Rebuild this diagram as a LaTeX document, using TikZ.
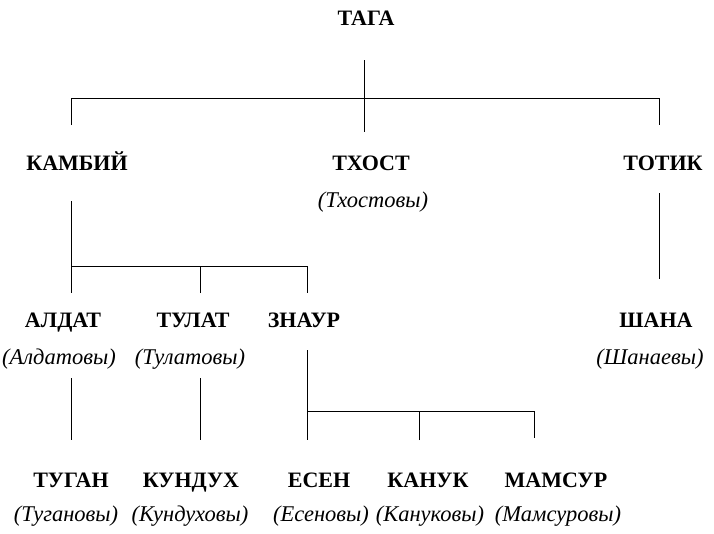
\documentclass[tikz,border=0pt]{standalone}
\usepackage{fontspec}
\setmainfont{Liberation Serif}
\begin{document}
\begin{tikzpicture}[x=1pt,y=-1pt,
  every node/.style={inner sep=0pt, anchor=base},
  kinname/.style={font=\bfseries\fontsize{22}{22}\selectfont},
  famtxt/.style={font=\itshape\fontsize{22.5}{22.5}\selectfont},
  treeline/.style={line width=0.9pt, draw=black}]
\useasboundingbox (0,0) rectangle (714,533);
% row 1
\node[kinname] (taga) at (366,25) {ТАГА};
% row 2
\node[kinname] (kambiy) at (77,170) {КАМБИЙ};
\node[kinname] (txost) at (371,170) {ТХОСТ};
\node[kinname] (totik) at (663,170) {ТОТИК};
\node[famtxt] (txostf) at (373,207) {(Тхостовы)};
% row 3
\node[kinname] (aldat) at (63,327) {АЛДАТ};
\node[kinname] (tulat) at (193,327) {ТУЛАТ};
\node[kinname] (znaur) at (304,327) {ЗНАУР};
\node[kinname] (shana) at (656,327) {ШАНА};
\node[famtxt] (aldatf) at (59,364) {(Алдатовы)};
\node[famtxt] (tulatf) at (190,364) {(Тулатовы)};
\node[famtxt] (shanaf) at (650,364) {(Шанаевы)};
% row 4
\node[kinname] (tugan) at (71,487) {ТУГАН};
\node[kinname] (kunduh) at (191,487) {КУНДУХ};
\node[kinname] (esen) at (319,487) {ЕСЕН};
\node[kinname] (kanuk) at (428,487) {КАНУК};
\node[kinname] (mamsur) at (556,487) {МАМСУР};
\node[famtxt] (tuganf) at (66,521) {(Тугановы)};
\node[famtxt] (kunduhf) at (190,521) {(Кундуховы)};
\node[famtxt] (esenf) at (321,521) {(Есеновы)};
\node[famtxt] (kanukf) at (430,521) {(Кануковы)};
\node[famtxt] (mamsurf) at (558,521) {(Мамсуровы)};
% connector points
\coordinate (tagaA) at (364,60);
\coordinate (tagaB) at (364,132);
\coordinate (kamUp) at (71.5,125);
\coordinate (totUp) at (659,125);
\coordinate (kamDn) at (71.5,201);
\coordinate (kamJ) at (71.5,266);
\coordinate (aldUp) at (71.5,293);
\coordinate (tulUp) at (200,293);
\coordinate (znaUp) at (307,293);
\coordinate (totDn) at (659,193);
\coordinate (shaUp) at (659,279);
\coordinate (aldDn) at (71.5,378);
\coordinate (tugUp) at (71.5,440);
\coordinate (tulDn) at (200,378);
\coordinate (kunUp) at (200,440);
\coordinate (znaDn) at (307,350);
\coordinate (znaJ) at (307,411);
\coordinate (esUp) at (307,440);
\coordinate (kanUp) at (419,440);
\coordinate (mamUp) at (534,438);
% connectors
\draw[treeline] (tagaA) -- (tagaB);
\draw[treeline] (kamUp) -- ++(0,-27) -| (totUp);
\draw[treeline] (kamDn) -- (aldUp);
\draw[treeline] (kamJ) -| (znaUp);
\draw[treeline] (tulUp) -- (tulUp |- kamJ);
\draw[treeline] (totDn) -- (shaUp);
\draw[treeline] (aldDn) -- (tugUp);
\draw[treeline] (tulDn) -- (kunUp);
\draw[treeline] (znaDn) -- (esUp);
\draw[treeline] (znaJ) -| (mamUp);
\draw[treeline] (kanUp) -- (kanUp |- znaJ);
\end{tikzpicture}
\end{document}
